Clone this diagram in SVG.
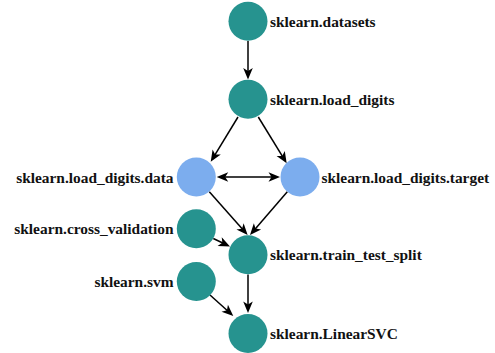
<svg xmlns="http://www.w3.org/2000/svg" width="495" height="353" viewBox="0 0 495 353">
<style>
.teal{fill:#26938f}
.blue{fill:#7cadee}
.lbl{font-family:"Liberation Serif","Times New Roman",serif;font-weight:bold;font-size:15.4px;fill:#111}
.l{text-anchor:end}
.e{stroke:#000;stroke-width:1.5;fill:none;marker-end:url(#ah)}
</style>
<defs>
<marker id="ah" markerUnits="userSpaceOnUse" viewBox="-12 -5 12 10" markerWidth="12" markerHeight="10" refX="-4" refY="0" orient="auto-start-reverse" overflow="visible">
<path d="M0,0 L-11.5,-4.8 L-8.5,0 L-11.5,4.8 Z" fill="#000"/>
</marker>
</defs>
<rect width="495" height="353" fill="#fff"/>
<g id="connectors">
<line class="e" x1="248" y1="41" x2="248" y2="75.5"/>
<line class="e" x1="238" y1="117" x2="212.8" y2="158.3"/>
<line class="e" x1="258.3" y1="117" x2="284.6" y2="159.9"/>
<line class="e" x1="220.7" y1="177" x2="276" y2="177" marker-start="url(#ah)"/>
<line class="e" x1="209.3" y1="191.7" x2="245" y2="232"/>
<line class="e" x1="287.3" y1="191.7" x2="252.6" y2="232"/>
<line class="e" x1="213.3" y1="238.5" x2="226.4" y2="244.8"/>
<line class="e" x1="248" y1="274.5" x2="248" y2="309"/>
<line class="e" x1="210" y1="295" x2="230.3" y2="313.3"/>
</g>
<g id="n_datasets"><circle class="teal" cx="248" cy="21.2" r="19.5"/><text class="lbl" x="270" y="26.7">sklearn.datasets</text></g>
<g id="n_load_digits"><circle class="teal" cx="248" cy="99.2" r="19.5"/><text class="lbl" x="270" y="104.7">sklearn.load_digits</text></g>
<g id="n_data"><circle class="blue" cx="196.3" cy="177" r="19.5"/><text class="lbl l" x="173.5" y="182.5">sklearn.load_digits.data</text></g>
<g id="n_target"><circle class="blue" cx="300" cy="177" r="19.5"/><text class="lbl" x="321.5" y="182.5">sklearn.load_digits.target</text></g>
<g id="n_cross_validation"><circle class="teal" cx="196.3" cy="228.7" r="19.5"/><text class="lbl l" x="173.5" y="234.2">sklearn.cross_validation</text></g>
<g id="n_train_test_split"><circle class="teal" cx="248" cy="254.8" r="19.5"/><text class="lbl" x="270" y="260.3">sklearn.train_test_split</text></g>
<g id="n_svm"><circle class="teal" cx="196.3" cy="281.5" r="19.5"/><text class="lbl l" x="173.5" y="287">sklearn.svm</text></g>
<g id="n_LinearSVC"><circle class="teal" cx="248" cy="333.5" r="19.5"/><text class="lbl" x="270" y="339">sklearn.LinearSVC</text></g>
</svg>
